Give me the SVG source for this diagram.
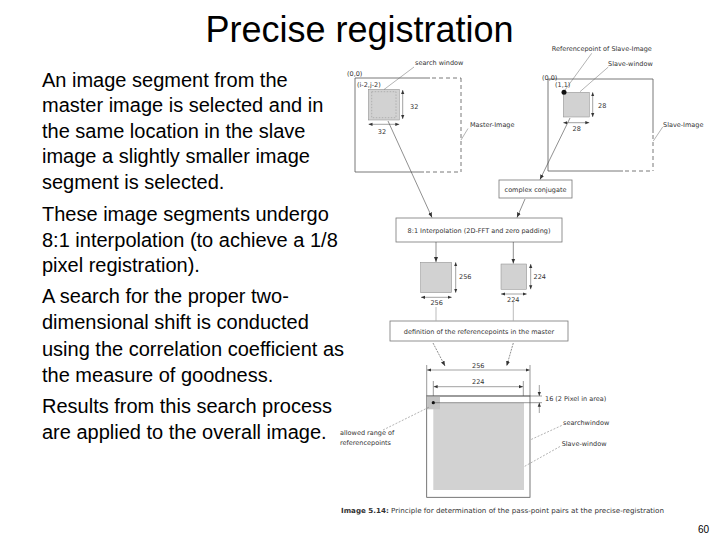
<svg xmlns="http://www.w3.org/2000/svg" width="720" height="540" viewBox="0 0 720 540">
<style>
.t{font-family:"Liberation Sans",Arial,sans-serif;fill:#000}
.s{font-family:"DejaVu Sans","Liberation Sans",sans-serif;font-size:6.5px;fill:#333}
.box{fill:#fff;stroke:#777;stroke-width:0.8}
.edge{stroke:#555;stroke-width:0.8;fill:none}
.dash{stroke:#555;stroke-width:0.8;fill:none;stroke-dasharray:4 3}
.grey{fill:#d2d2d2;stroke:#888;stroke-width:0.5}
.arr{stroke:#444;stroke-width:0.6;fill:none;marker-end:url(#ah)}
.dim{stroke:#444;stroke-width:0.5;fill:none;marker-start:url(#dh);marker-end:url(#dh)}
.lead{stroke:#666;stroke-width:0.5;fill:none}
.ldash{stroke:#666;stroke-width:0.5;fill:none;stroke-dasharray:2 1.5}
.ext{stroke:#555;stroke-width:0.6;fill:none}
</style>
<defs>
<marker id="ah" viewBox="0 0 10 10" refX="10" refY="5" markerWidth="5" markerHeight="5" markerUnits="userSpaceOnUse" orient="auto"><path d="M0,1 L10,5 L0,9 z" fill="#333"/></marker>
<marker id="dh" viewBox="0 0 10 10" refX="10" refY="5" markerWidth="4" markerHeight="4" markerUnits="userSpaceOnUse" orient="auto-start-reverse"><path d="M0,1 L10,5 L0,9 z" fill="#333"/></marker>
</defs>
<rect width="720" height="540" fill="#fff"/>

<text class="t" x="359.5" y="42" font-size="36" text-anchor="middle">Precise registration</text>

<g id="bullets" class="t" font-size="20">
<text x="42" y="87">An image segment from the</text>
<text x="42" y="112">master image is selected and in</text>
<text x="42" y="138">the same location in the slave</text>
<text x="42" y="163">image a slightly smaller image</text>
<text x="42" y="189">segment is selected.</text>
<text x="42" y="221">These image segments undergo</text>
<text x="42" y="247">8:1 interpolation (to achieve a 1/8</text>
<text x="42" y="272">pixel registration).</text>
<text x="42" y="303">A search for the proper two-</text>
<text x="42" y="329">dimensional shift is conducted</text>
<text x="42" y="356">using the correlation coefficient as</text>
<text x="42" y="382">the measure of goodness.</text>
<text x="42" y="413">Results from this search process</text>
<text x="42" y="439">are applied to the overall image.</text>
</g>

<g id="master-image">
<line class="edge" x1="355" y1="78" x2="355" y2="172"/>
<line class="edge" x1="355" y1="78" x2="430" y2="78"/>
<line class="dash" x1="432" y1="78" x2="461" y2="78"/>
<line class="dash" x1="461" y1="78" x2="461" y2="172"/>
<line class="edge" x1="355" y1="172" x2="424" y2="172"/>
<line class="dash" x1="426" y1="172" x2="461" y2="172"/>
<rect class="grey" x="368.3" y="89.3" width="31" height="30.7"/>
<rect x="371.7" y="91.7" width="24.3" height="26" fill="none" stroke="#999" stroke-width="0.6" stroke-dasharray="1.5 1.5"/>
<line class="dim" x1="402.7" y1="90" x2="402.7" y2="119"/>
<line class="dim" x1="368.5" y1="124.3" x2="399.3" y2="124.3"/>
<text class="s" x="410" y="108.5">32</text>
<text class="s" x="382" y="133.5" text-anchor="middle">32</text>
<text class="s" x="347" y="75.5">(0,0)</text>
<text class="s" x="357" y="87">(i-2,j-2)</text>
<text class="s" x="415" y="65">search window</text>
<text class="s" x="470" y="127">Master-Image</text>
<line class="lead" x1="414" y1="67" x2="384" y2="89.5"/>
<line class="lead" x1="468" y1="128.5" x2="461" y2="140"/>
</g>

<g id="slave-image">
<line class="edge" x1="548" y1="79" x2="548" y2="171"/>
<line class="edge" x1="548" y1="79" x2="653" y2="79"/>
<line class="edge" x1="653" y1="79" x2="653" y2="133"/>
<line class="dash" x1="653" y1="135" x2="653" y2="171"/>
<line class="edge" x1="548" y1="171" x2="623" y2="171"/>
<line class="dash" x1="625" y1="171" x2="653" y2="171"/>
<rect class="grey" x="563.3" y="92.3" width="26" height="24.7"/>
<circle cx="564" cy="92.3" r="2.5" fill="#111"/>
<line class="dim" x1="592.7" y1="92.3" x2="592.7" y2="117"/>
<line class="dim" x1="563.3" y1="122.7" x2="589.3" y2="122.7"/>
<text class="s" x="598" y="108">28</text>
<text class="s" x="576.7" y="131" text-anchor="middle">28</text>
<text class="s" x="542" y="79.5">(0,0)</text>
<text class="s" x="555" y="87">(1,1)</text>
<text class="s" x="551.7" y="51">Referencepoint of Slave-Image</text>
<text class="s" x="608" y="66">Slave-window</text>
<text class="s" x="663" y="126.5">Slave-Image</text>
<line class="lead" x1="591.7" y1="53.3" x2="565" y2="90"/>
<line class="lead" x1="608.3" y1="67" x2="580" y2="91.7"/>
<line class="lead" x1="662.7" y1="127" x2="653.3" y2="141"/>
</g>

<g id="complex-conjugate">
<rect class="box" x="499" y="180" width="73" height="18"/>
<text class="s" x="535.5" y="191.5" text-anchor="middle">complex conjugate</text>
</g>

<g id="interpolation">
<rect class="box" x="396" y="218" width="166" height="24"/>
<text class="s" x="479" y="232.5" text-anchor="middle">8:1 Interpolation (2D-FFT and zero padding)</text>
</g>

<g id="master-256">
<rect class="grey" x="420.7" y="262.3" width="31" height="30.4"/>
<line class="dim" x1="455.7" y1="262.3" x2="455.7" y2="292.7"/>
<line class="dim" x1="421" y1="297.3" x2="451.7" y2="297.3"/>
<text class="s" x="459" y="279">256</text>
<text class="s" x="436.7" y="305" text-anchor="middle">256</text>
</g>

<g id="slave-224">
<rect class="grey" x="501" y="264" width="25.7" height="25.3"/>
<line class="dim" x1="530.7" y1="264" x2="530.7" y2="289.3"/>
<line class="dim" x1="501" y1="294" x2="526.7" y2="294"/>
<text class="s" x="533.5" y="279">224</text>
<text class="s" x="513.3" y="301.5" text-anchor="middle">224</text>
</g>

<g id="definition">
<rect class="box" x="390" y="321" width="178" height="20"/>
<text class="s" x="479" y="333.5" text-anchor="middle">definition of the referencepoints in the master</text>
</g>

<g id="search-result">
<line class="ext" x1="426.7" y1="365" x2="426.7" y2="396"/>
<line class="ext" x1="530" y1="365" x2="530" y2="396"/>
<line class="ext" x1="433.3" y1="381" x2="433.3" y2="402.7"/>
<line class="ext" x1="523.3" y1="381" x2="523.3" y2="402.7"/>
<rect x="426.7" y="396" width="103.3" height="101.3" fill="#fff" stroke="#555" stroke-width="0.8"/>
<rect x="433.3" y="402.7" width="90.7" height="87.3" fill="#d2d2d2"/>
<rect x="426.7" y="396" width="13.3" height="13.3" fill="#c4c4c4"/>
<line class="ext" x1="426.7" y1="396" x2="542" y2="396"/>
<line class="ext" x1="433.3" y1="402.7" x2="542" y2="402.7"/>
<circle cx="433.3" cy="402.7" r="1.6" fill="#111"/>
<line class="dim" x1="427" y1="370" x2="529.7" y2="370"/>
<line class="dim" x1="433.6" y1="386.7" x2="523" y2="386.7"/>
<text class="s" x="478.3" y="368" text-anchor="middle">256</text>
<text class="s" x="478.3" y="384" text-anchor="middle">224</text>
<line x1="539.3" y1="385" x2="539.3" y2="396" stroke="#444" stroke-width="0.5" marker-end="url(#dh)"/>
<line x1="539.3" y1="413" x2="539.3" y2="402.7" stroke="#444" stroke-width="0.5" marker-end="url(#dh)"/>
<text class="s" x="545" y="401">16  (2 Pixel in area)</text>
<text class="s" x="563" y="425">searchwindow</text>
<text class="s" x="561.7" y="446">Slave-window</text>
<text class="s" x="340" y="435">allowed range of</text>
<text class="s" x="340" y="444.5">referencepoints</text>
<line class="ldash" x1="561.7" y1="425.5" x2="530" y2="440"/>
<line class="ldash" x1="560" y1="446.5" x2="524" y2="466.7"/>
<line class="ldash" x1="383" y1="430" x2="430" y2="406.7"/>
</g>

<g id="connectors">
<line class="arr" x1="388" y1="121" x2="432" y2="217.5"/>
<line class="arr" x1="570" y1="118" x2="540" y2="179.5"/>
<line class="arr" x1="525" y1="199" x2="517" y2="217.5"/>
<line class="arr" x1="436" y1="242" x2="436" y2="262"/>
<line class="arr" x1="513.3" y1="242" x2="513.3" y2="263.5"/>
<line x1="436" y1="307" x2="436" y2="321" stroke="#aaa" stroke-width="0.8"/>
<line x1="513.3" y1="302" x2="513.3" y2="321" stroke="#aaa" stroke-width="0.8"/>
<line class="arr" x1="433" y1="343" x2="445" y2="366" stroke-dasharray="2 1"/>
<line class="arr" x1="513.3" y1="343" x2="506.7" y2="366" stroke-dasharray="2 1"/>
</g>

<g id="caption">
<text x="341" y="513" font-family="'DejaVu Sans','Liberation Sans',sans-serif" font-size="7" fill="#333" textLength="323" lengthAdjust="spacingAndGlyphs"><tspan font-weight="bold">Image 5.14:</tspan> Principle for determination of the pass-point pairs at the precise-registration</text>
</g>

<text x="698" y="533" font-family="'Liberation Sans',Arial,sans-serif" font-size="10" fill="#000">60</text>
</svg>
